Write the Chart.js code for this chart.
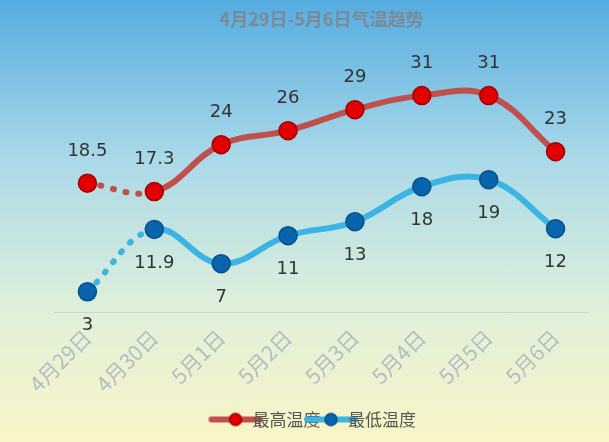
<!DOCTYPE html>
<html><head><meta charset="utf-8">
<script src="https://cdn.jsdelivr.net/npm/chart.js@4"></script>
<style>
html,body{margin:0;padding:0}
body{width:609px;height:442px;background:linear-gradient(#55ace0 0%,#a8d8e8 35%,#dff0da 70%,#faf5c6 100%)}
</style></head><body>
<canvas id="c" width="609" height="442"></canvas>
<script>
const categories = ["4月29日","4月30日","5月1日","5月2日","5月3日","5月4日","5月5日","5月6日"];
const highTemps = [18.5, 17.3, 24, 26, 29, 31, 31, 23];
const lowTemps = [3, 11.9, 7, 11, 13, 18, 19, 12];

function legendIcon(line, fill, border) {
  const c = document.createElement("canvas");
  c.width = 56; c.height = 16;
  const g = c.getContext("2d");
  g.strokeStyle = line; g.lineWidth = 6; g.lineCap = "round";
  g.beginPath(); g.moveTo(4, 8); g.lineTo(52, 8); g.stroke();
  g.fillStyle = fill; g.strokeStyle = border; g.lineWidth = 1.5;
  g.beginPath(); g.arc(28, 8, 6, 0, Math.PI * 2); g.fill(); g.stroke();
  return c;
}

const valueLabels = {
  id: "valueLabels",
  afterDatasetsDraw(chart) {
    const ctx = chart.ctx;
    ctx.save();
    ctx.font = "18px 'DejaVu Sans', sans-serif";
    ctx.fillStyle = "#333";
    ctx.textAlign = "center";
    ctx.textBaseline = "middle";
    chart.data.datasets.forEach((ds, i) => {
      const meta = chart.getDatasetMeta(i);
      const off = i === 0 ? -32 : 34;
      meta.data.forEach((p, j) => ctx.fillText(String(ds.data[j]), p.x, p.y + off));
    });
    ctx.restore();
  }
};

const firstDash = ctx => ctx.p0DataIndex === 0 ? [1, 12] : undefined;

new Chart(document.getElementById("c"), {
  type: "line",
  data: {
    labels: categories,
    datasets: [
      {
        label: "最高温度", data: highTemps,
        borderColor: "#c0504d", borderWidth: 6, tension: 0.4,
        pointRadius: 9, pointBackgroundColor: "#e00000", pointBorderColor: "#a00000", pointBorderWidth: 1.5,
        segment: { borderDash: firstDash, borderCapStyle: ctx => ctx.p0DataIndex === 0 ? "round" : "butt" }
      },
      {
        label: "最低温度", data: lowTemps,
        borderColor: "#3bb3e3", borderWidth: 6, tension: 0.4,
        pointRadius: 9, pointBackgroundColor: "#0865ad", pointBorderColor: "#064f88", pointBorderWidth: 1.5,
        segment: { borderDash: firstDash, borderCapStyle: ctx => ctx.p0DataIndex === 0 ? "round" : "butt" }
      }
    ]
  },
  options: {
    responsive: false, animation: false,
    layout: { padding: { left: 54, right: 20, top: 0, bottom: 4 } },
    plugins: {
      title: { display: true, text: "4月29日-5月6日气温趋势", color: "#7a8a96",
        font: { size: 18, family: "'Noto Sans CJK SC', sans-serif", weight: "bold" }, padding: { top: 8, bottom: 38 } },
      legend: { position: "bottom",
        labels: { usePointStyle: true, color: "#555", font: { size: 17, family: "'Noto Sans CJK SC', sans-serif" },
          padding: 2,
          generateLabels: chart => chart.data.datasets.map((ds, i) => ({
            text: ds.label, datasetIndex: i, fontColor: "#555",
            pointStyle: legendIcon(ds.borderColor, ds.pointBackgroundColor, ds.pointBorderColor)
          })) } },
      tooltip: { enabled: false }
    },
    scales: {
      y: { display: false, min: 0, max: 35 },
      x: { offset: true,
        grid: { display: false, drawTicks: false },
        border: { color: "#c8d4d8", width: 1 },
        ticks: { color: "#b4bcc2", maxRotation: 45, minRotation: 45, padding: 12,
          font: { size: 21, family: "'Noto Sans CJK SC', sans-serif" } } }
    }
  },
  plugins: [valueLabels]
});
</script>
</body></html>
